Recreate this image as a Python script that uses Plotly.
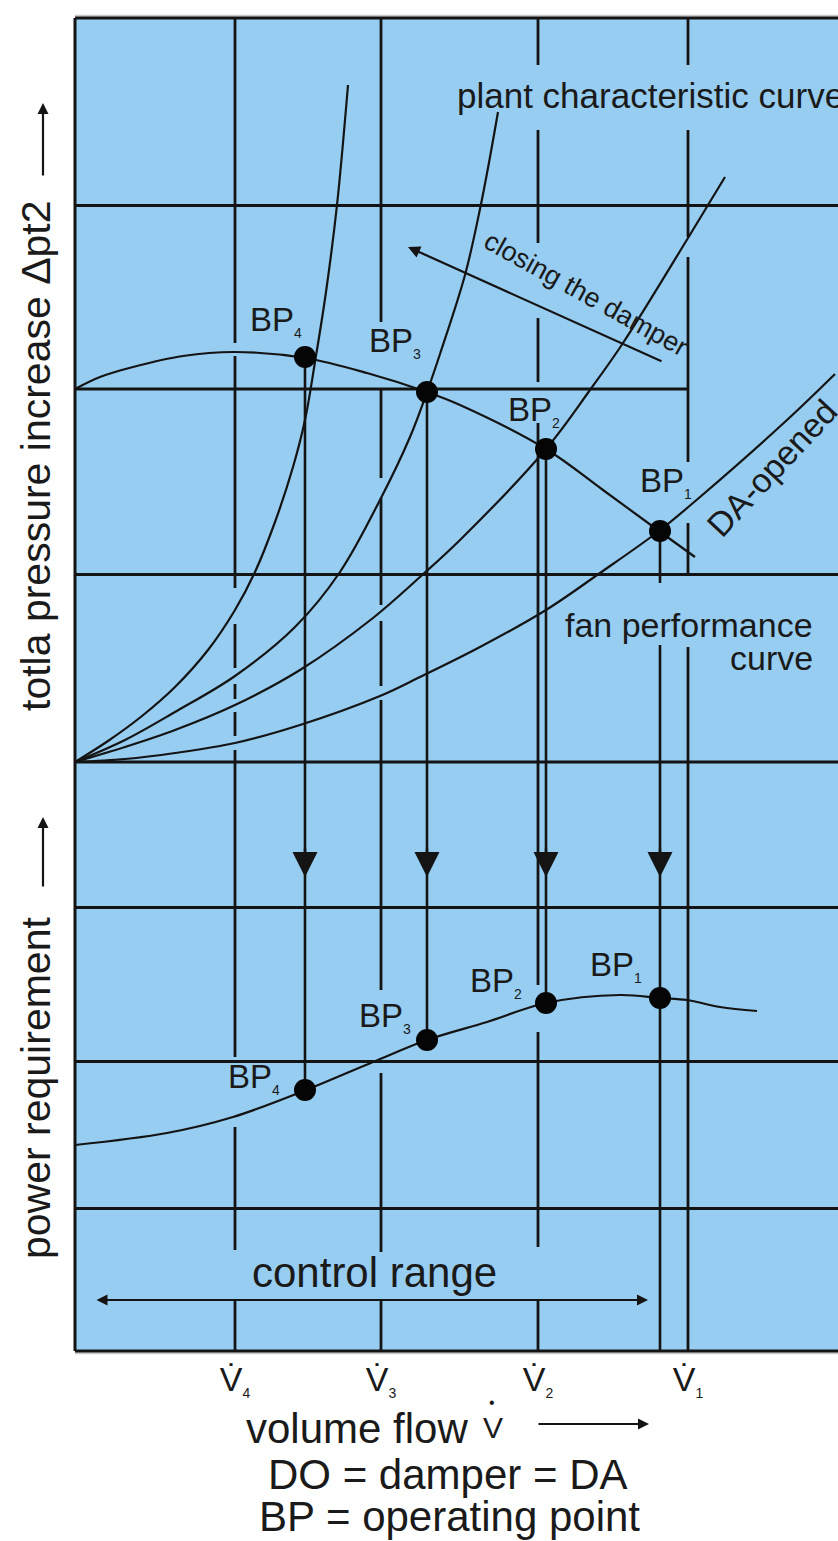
import plotly.graph_objects as go

# ── Diagram data ─────────────────────────────────────────────────────────────
# flow = volume flow (to the right), pressure = total pressure rise (upper
# panel), power = power requirement (lower panel); arbitrary diagram units
BP_LABELS = ["1", "2", "3", "4"]
BP_FLOW = [585, 471, 352, 230]
BP_PRESSURE = [231, 313, 370, 405]
BP_POWER = [353, 348, 311, 261]

FAN_FLOW = [0, 25, 58, 108, 160, 230, 292, 352, 385, 471, 528, 584, 620]
FAN_PRESSURE = [373, 385, 395, 406, 410, 404, 389, 370, 357, 313, 272, 231, 205]

# plant characteristic curves: 1 = damper opened ... 4 = damper nearly closed
PLANT1_FLOW = [0, 50, 100, 160, 225, 305, 345, 405, 471, 525, 584, 625, 712, 760]
PLANT1_PRESSURE = [0, 3, 9, 19, 37, 66, 85, 115, 152, 189, 231, 265, 342, 388]
PLANT2_FLOW = [0, 50, 100, 160, 225, 298, 345, 385, 471, 515, 548, 613, 650]
PLANT2_PRESSURE = [0, 15, 32, 57, 92, 144, 185, 222, 313, 372, 419, 524, 585]
PLANT3_FLOW = [0, 50, 100, 160, 220, 265, 305, 335, 352, 365, 390, 405, 415, 423]
PLANT3_PRESSURE = [0, 22, 50, 86, 135, 190, 262, 325, 370, 408, 487, 553, 605, 650]
PLANT4_FLOW = [0, 33, 67, 100, 133, 160, 180, 200, 218, 230, 240, 251, 262, 273]
PLANT4_PRESSURE = [0, 21, 46, 75, 112, 152, 190, 240, 295, 342, 400, 470, 557, 677]

POWER_FLOW = [0, 92, 158, 231, 298, 352, 412, 471, 545, 585, 612, 645, 682]
POWER_VALUE = [206, 218, 234, 261, 289, 311, 329, 348, 356, 353, 351, 344, 340]

V_FLOW = [613, 463, 306, 160]
V_TEXT = ["V\u0307<sub><span style='font-size:14px'>%s</span></sub>" % n for n in BP_LABELS]

P_GRID = [188, 557]
P_GRID_SHORT = 373          # horizontal line that stops at V1
W_GRID = [143, 290, 444]

# vertical grid lines: visible pieces (upper panel in pressure, lower in power)
V_GRID_TOP = {
    160: [(744, 419), (406, 174), (138, 94), (78, 63), (50, 26), (12, 0)],
    306: [(744, 440), (374, 284), (264, 157), (141, 76), (62, 0)],
    463: [(744, 697), (632, 519), (444, 380), (339, 0)],
    613: [(744, 697), (632, 525), (505, 300), (239, 188), (115, 0)],
}
V_GRID_BOTTOM = {
    160: [(589, 294), (224, 101), (51, 0)],
    306: [(589, 361), (278, 99), (51, 0)],
    463: [(589, 366), (319, 104), (51, 0)],
    613: [(589, 0)],
}
BP1_TEXT_GAP = (179, 117)

P_MAX, W_MAX, X_MAX = 744, 589, 763

# ── Style ────────────────────────────────────────────────────────────────────
BG = "#97CDF1"
INK = "#141414"
TXT = "#1a1a1a"
FONT = "Liberation Sans, Arial, sans-serif"
SPLIT = W_MAX / (P_MAX + W_MAX)


# diagram units -> paper fractions (for texts outside the plotting area)
def xp(x):
    return x / X_MAX


def yp_top(p):
    return SPLIT + (1 - SPLIT) * p / P_MAX


def yp_bot(w):
    return SPLIT * w / W_MAX


def pieces(x, spans):
    xs, ys = [], []
    for a, b in spans:
        xs += [x, x, None]
        ys += [a, b, None]
    return xs, ys


fig = go.Figure()


def line(xs, ys, axis, width, spline=False):
    fig.add_trace(go.Scatter(
        x=xs, y=ys, yaxis=axis, mode="lines",
        line=dict(color=INK, width=width, shape="spline" if spline else "linear"),
        hoverinfo="skip", showlegend=False,
    ))


# grid
for v in V_FLOW:
    line(*pieces(v, V_GRID_TOP[v]), "y", 2.8)
    line(*pieces(v, V_GRID_BOTTOM[v]), "y2", 2.8)
line([0, V_FLOW[0]], [P_GRID_SHORT, P_GRID_SHORT], "y", 2.8)

# curves
for fx, fp in [(PLANT1_FLOW, PLANT1_PRESSURE), (PLANT2_FLOW, PLANT2_PRESSURE),
               (PLANT3_FLOW, PLANT3_PRESSURE), (PLANT4_FLOW, PLANT4_PRESSURE),
               (FAN_FLOW, FAN_PRESSURE)]:
    line(fx, fp, "y", 2.2, spline=True)
line(POWER_FLOW, POWER_VALUE, "y2", 2.2, spline=True)

# drop lines from the operating points to the power curve
for i, (f, p, w) in enumerate(zip(BP_FLOW, BP_PRESSURE, BP_POWER)):
    if i == 0:
        line(*pieces(f, [(p, BP1_TEXT_GAP[0]), (BP1_TEXT_GAP[1], 0)]), "y", 2.6)
        line([f, f], [W_MAX, 0], "y2", 2.6)
    else:
        line([f, f], [p, 0], "y", 2.6)
        line([f, f], [W_MAX, w], "y2", 2.6)

# operating points
for ys, axis in [(BP_PRESSURE, "y"), (BP_POWER, "y2")]:
    fig.add_trace(go.Scatter(
        x=BP_FLOW, y=ys, yaxis=axis, mode="markers",
        marker=dict(color="#050505", size=22),
        hoverinfo="skip", showlegend=False,
    ))

ann = []


def text(x, y, s, yref="y", size=34, xref="x", **kw):
    d = dict(x=x, y=y, xref=xref, yref=yref, text=s, showarrow=False,
             xanchor="center", yanchor="middle",
             font=dict(family=FONT, size=size, color=TXT))
    d.update(kw)
    ann.append(d)


def arrow(x, y, ax, ay, yref="y", xref="x", axref=None, ayref=None, **kw):
    d = dict(x=x, y=y, ax=ax, ay=ay, xref=xref, yref=yref,
             axref=axref or xref, ayref=ayref or yref,
             text="", showarrow=True, arrowcolor=INK, arrowhead=2,
             arrowsize=1, arrowwidth=2.2)
    d.update(kw)
    ann.append(d)


# arrowheads on the drop lines
for f in BP_FLOW:
    arrow(f, 474, f, 504, yref="y2", arrowsize=2, arrowwidth=2.5)

# BP labels
top_pos = [(563, 280), (431, 351), (292, 420), (173, 441)]
bot_pos = [(513, 385), (393, 369), (282, 334), (151, 273)]
for n, (tx, ty), (bx, by) in zip(BP_LABELS, top_pos, bot_pos):
    s = "BP<sub><span style='font-size:14px'>%s</span></sub>" % n
    text(tx, ty, s, size=33, xanchor="left")
    text(bx, by, s, yref="y2", size=33, xanchor="left")

text(380, 667, "plant characteristic curve", size=35, xanchor="left")
text(740, 137, "fan performance", size=34, xanchor="right")
text(740, 104, "curve", size=34, xanchor="right")
text(511, 468, "closing the damper", size=27, textangle=29)
arrow(333, 515, 588, 400, arrowsize=1.1)
text(697, 294, "DA-opened", size=34, textangle=-47)
text(299, 79, "control range", yref="y2", size=42)
arrow(573, 51, 20, 51, yref="y2", arrowside="end+start")

# texts outside the plotting area (paper coordinates)
text(xp(-39), yp_top(306), "totla pressure increase \u0394pt2", xref="paper",
     yref="paper", size=41, textangle=-90)
arrow(xp(-32), yp_top(659), 0, 659 - 585, xref="paper", yref="paper",
      axref="pixel", ayref="pixel")
text(xp(-39), yp_bot(263), "power requirement", xref="paper", yref="paper",
     size=41, textangle=-90)
arrow(xp(-32), yp_bot(534), 0, 534 - 463, xref="paper", yref="paper",
      axref="pixel", ayref="pixel")

text(xp(282), yp_bot(-77), "volume flow", xref="paper", yref="paper", size=42)
text(xp(418), yp_bot(-76), "V", xref="paper", yref="paper", size=30)
text(xp(417), yp_bot(-51), "\u2022", xref="paper", yref="paper", size=16)
arrow(xp(574), yp_bot(-73), 462 - 574, 0, xref="paper", yref="paper",
      axref="pixel", ayref="pixel")
text(xp(372), yp_bot(-123), "DO = damper = DA", xref="paper", yref="paper", size=42)
text(xp(374), yp_bot(-165), "BP = operating point", xref="paper", yref="paper", size=42)

shapes = [
    dict(type="line", xref="paper", yref="paper", x0=0, x1=1, y0=1.0016, y1=1.0016,
         line=dict(color="#c9c9c9", width=2)),
    dict(type="line", xref="paper", yref="paper", x0=0, x1=1, y0=-0.0016, y1=-0.0016,
         line=dict(color="#c9c9c9", width=2)),
    dict(type="line", xref="paper", yref="paper", x0=0, x1=0, y0=0, y1=1,
         line=dict(color=INK, width=3)),
    dict(type="line", xref="paper", yref="paper", x0=0, x1=1, y0=1, y1=1,
         line=dict(color=INK, width=3)),
    dict(type="line", xref="paper", yref="paper", x0=0, x1=1, y0=0, y1=0,
         line=dict(color=INK, width=3)),
    # boundary between the two panels
    dict(type="line", xref="paper", yref="paper", x0=0, x1=1, y0=SPLIT, y1=SPLIT,
         line=dict(color=INK, width=2.8), layer="below"),
]

hidden = dict(showline=False, zeroline=False, showticklabels=False, ticks="",
              fixedrange=True)
fig.update_layout(
    width=838, height=1541,
    margin=dict(l=75, r=0, t=18, b=190),
    paper_bgcolor="white", plot_bgcolor=BG,
    showlegend=False,
    xaxis=dict(range=[0, X_MAX], anchor="y2", showgrid=False, zeroline=False,
               showline=False, ticks="", tickvals=V_FLOW, ticktext=V_TEXT,
               tickfont=dict(family=FONT, size=34, color=TXT),
               ticklabelstandoff=5, fixedrange=True),
    yaxis=dict(range=[0, P_MAX], domain=[SPLIT, 1], anchor="x",
               tickvals=P_GRID, showgrid=True, gridcolor=INK, gridwidth=2.8,
               **hidden),
    yaxis2=dict(range=[0, W_MAX], domain=[0, SPLIT], anchor="x",
                tickvals=W_GRID, showgrid=True, gridcolor=INK, gridwidth=2.8,
                **hidden),
    annotations=ann,
    shapes=shapes,
)

fig.write_html("out.html", config={"displayModeBar": False},
               post_script="document.body.style.margin='0';")
